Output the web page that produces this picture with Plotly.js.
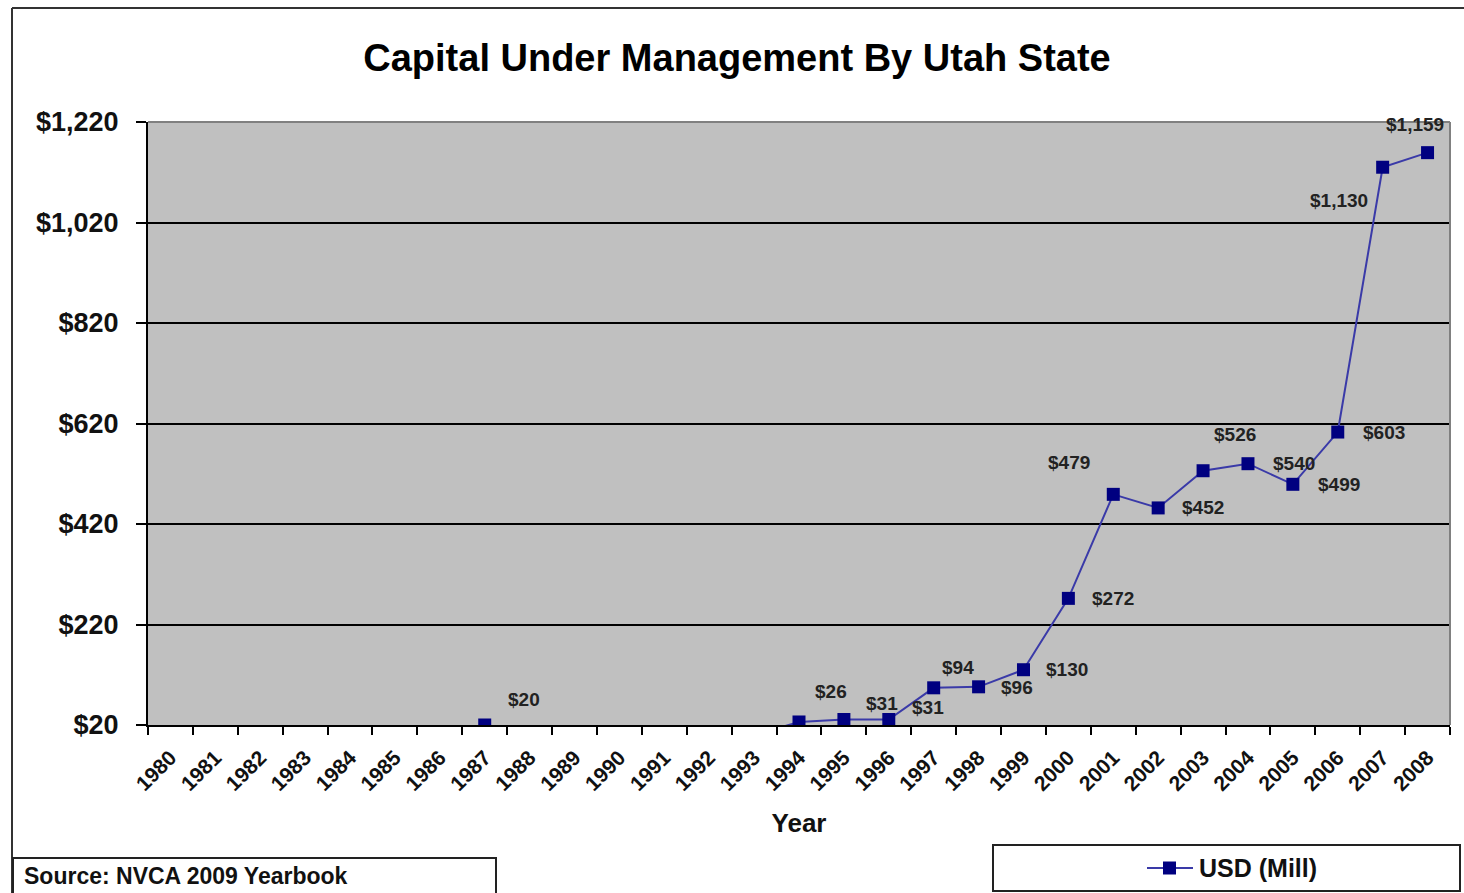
<!DOCTYPE html>
<html>
<head>
<meta charset="utf-8">
<script src="https://cdn.plot.ly/plotly-3.0.1.min.js"></script>
<style>
html,body{margin:0;padding:0;background:#fff;overflow:hidden;}
#chart{width:1464px;height:893px;}
</style>
</head>
<body>
<div id="chart"></div>
<script>
// ---- data ----
var years = ['1980','1981','1982','1983','1984','1985','1986','1987','1988','1989','1990','1991','1992','1993','1994','1995','1996','1997','1998','1999','2000','2001','2002','2003','2004','2005','2006','2007','2008'];
var usdMill = [0,0,0,0,0,0,0,20,0,0,0,0,0,0,26,31,31,94,96,130,272,479,452,526,540,499,603,1130,1159];
var labelYears = ['1987','1994','1995','1996','1997','1998','1999','2000','2001','2002','2003','2004','2005','2006','2007','2008'];
var yTicks = [20,220,420,620,820,1020,1220];
var seriesName = 'USD (Mill)';
var chartTitle = 'Capital Under Management By Utah State';
var xTitle = 'Year';
var sourceText = 'Source: NVCA 2009 Yearbook';

// label offsets in px (style only)
var labelDx = [39,32,38,39,24,38,44,45,-44,45,32,46,46,46,-44,-13];
var labelDy = [-26,-30,-16,-12,-20,1,0,0,-32,0,-36,0,0,0,33,-28];

var FONT = 'Liberation Sans, Arial, sans-serif';
var LINE_COLOR = '#3a3aa8', MARKER_COLOR = '#000080';

// plot area in px
var L = 148, R = 1450, T = 122, B = 725, W = 1464, H = 893;
function px(x){ return (x - L) / (R - L); }
function py(y){ return (B - y) / (B - T); }

var fmt = function(v){ return '$' + v.toLocaleString('en-US'); };

var annotations = labelYears.map(function(yr, i){
  var idx = years.indexOf(yr);
  var v = usdMill[idx];
  return {
    x: idx, y: v, xref: 'x', yref: 'y',
    text: '<b>' + fmt(v) + '</b>', showarrow: false,
    xshift: labelDx[i], yshift: -labelDy[i],
    font: {family: FONT, size: 19, color: '#222222'}
  };
});

annotations.push({
  xref: 'paper', yref: 'paper', x: px(22), y: py(876),
  xanchor: 'left', yanchor: 'middle', showarrow: false,
  text: '<b>' + sourceText + '</b>',
  font: {family: FONT, size: 23, color: '#111'}
});
// legend text (manual legend)
annotations.push({
  xref: 'paper', yref: 'paper', x: px(1197), y: py(868),
  xanchor: 'left', yanchor: 'middle', showarrow: false,
  text: '<b>' + seriesName + '</b>',
  font: {family: FONT, size: 25, color: '#111'}
});

var shapes = [
  // outer chart border (left + top)
  {type:'line', xref:'paper', yref:'paper', x0:px(12), x1:px(1470), y0:py(8), y1:py(8), line:{color:'#333', width:2}},
  {type:'line', xref:'paper', yref:'paper', x0:px(12), x1:px(12), y0:py(8), y1:py(900), line:{color:'#333', width:2}},
  // plot area top/right border (gray)
  {type:'line', xref:'paper', yref:'paper', x0:0, x1:1, y0:1, y1:1, line:{color:'#808080', width:2}, layer:'above'},
  {type:'line', xref:'paper', yref:'paper', x0:1, x1:1, y0:0, y1:1, line:{color:'#808080', width:2}, layer:'above'},
  // source box
  {type:'rect', xref:'paper', yref:'paper', x0:px(13), x1:px(496), y0:py(858), y1:py(905), line:{color:'#222', width:2}, fillcolor:'rgba(0,0,0,0)'},
  // legend box
  {type:'rect', xref:'paper', yref:'paper', x0:px(993), x1:px(1460), y0:py(845), y1:py(891), line:{color:'#222', width:2}, fillcolor:'rgba(0,0,0,0)'},
  // legend symbol: line + square marker
  {type:'line', xref:'paper', yref:'paper', x0:px(1147), x1:px(1193), y0:py(868), y1:py(868), line:{color:LINE_COLOR, width:2}},
  {type:'rect', xref:'paper', yref:'paper', x0:px(1163), x1:px(1176), y0:py(861.5), y1:py(874.5), line:{width:0}, fillcolor:MARKER_COLOR}
];

var trace = {
  x: years, y: usdMill, type: 'scatter', mode: 'lines+markers',
  name: seriesName,
  line: {color: LINE_COLOR, width: 2},
  marker: {color: MARKER_COLOR, symbol: 'square', size: 13, line: {width: 0}},
  cliponaxis: true,
  hoverinfo: 'x+y'
};

var layout = {
  width: W, height: H,
  margin: {l: L, r: W - R, t: T, b: H - B, pad: 0},
  paper_bgcolor: '#ffffff',
  plot_bgcolor: '#c0c0c0',
  title: {
    text: '<b>' + chartTitle + '</b>',
    font: {family: FONT, size: 38, color: '#000'},
    x: 737 / W, xref: 'container', xanchor: 'center',
    y: 1 - 58 / H, yref: 'container', yanchor: 'middle'
  },
  xaxis: {
    type: 'category',
    range: [-0.5, years.length - 0.5],
    tickson: 'boundaries',
    ticks: 'outside', ticklen: 8, tickwidth: 2, tickcolor: '#000',
    showline: true, linecolor: '#000', linewidth: 2,
    showgrid: false, zeroline: false,
    tickangle: -45,
    ticklabelstandoff: 10,
    tickfont: {family: FONT, size: 21, color: '#111', weight: 'bold'},
    title: {text: '<b>' + xTitle + '</b>', font: {family: FONT, size: 26, color: '#111'}, standoff: 20},
    automargin: false,
    fixedrange: true
  },
  yaxis: {
    range: [20, 1220],
    tickvals: yTicks,
    ticktext: yTicks.map(fmt),
    ticks: 'outside', ticklen: 10, tickwidth: 2, tickcolor: '#000',
    ticklabelstandoff: 12,
    showline: true, linecolor: '#000', linewidth: 2,
    showgrid: true, gridcolor: '#000', gridwidth: 2,
    zeroline: false,
    tickfont: {family: FONT, size: 27, color: '#111', weight: 'bold'},
    automargin: false,
    fixedrange: true
  },
  showlegend: false,
  annotations: annotations,
  shapes: shapes
};

Plotly.newPlot('chart', [trace], layout, {displayModeBar: false, staticPlot: true});
</script>
</body>
</html>
